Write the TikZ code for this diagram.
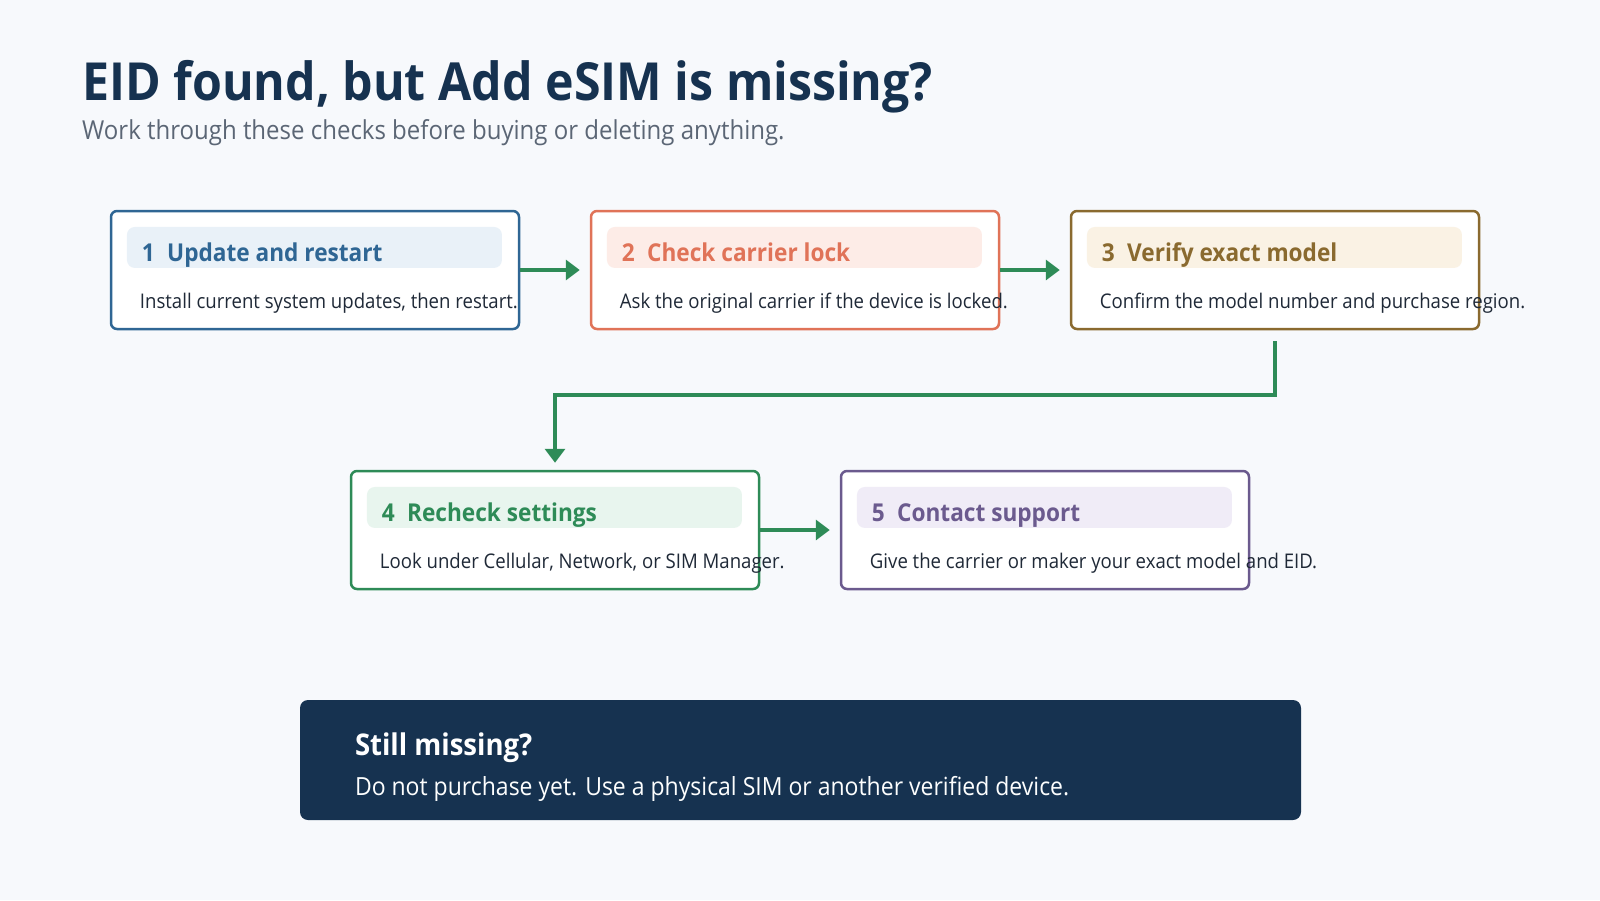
\documentclass[tikz,border=0pt]{standalone}
\usepackage{fontspec}
\setmainfont{Open Sans}[FakeStretch=0.92]
\usetikzlibrary{positioning,arrows.meta}
\definecolor{bg}{HTML}{F7F9FC}
\definecolor{navy}{HTML}{163250}
\definecolor{subgray}{HTML}{5B6675}
\definecolor{ink}{HTML}{1F2937}
\definecolor{flowgreen}{HTML}{2E8B57}
\definecolor{cblue}{HTML}{2F6694}   \definecolor{lblue}{HTML}{E9F1F8}
\definecolor{ccoral}{HTML}{E07358}  \definecolor{lcoral}{HTML}{FDECE7}
\definecolor{cbrown}{HTML}{8A6A2F}  \definecolor{lbrown}{HTML}{FAF2E4}
\definecolor{cgreen}{HTML}{2E8B57}  \definecolor{lgreen}{HTML}{E8F5EE}
\definecolor{cpurple}{HTML}{6B5A8E} \definecolor{lpurple}{HTML}{F0ECF7}
\newcommand{\fs}[1]{\fontsize{#1}{#1}\selectfont}

\begin{document}
\begin{tikzpicture}[x=1pt,y=-1pt,
    card/.style={draw=#1, line width=2.5pt, fill=white, rounded corners=6pt,
      minimum width=408pt, minimum height=118pt, inner sep=0pt},
    band/.style={fill=#1, rounded corners=8pt, minimum width=375pt,
      minimum height=41pt, inner sep=0pt, anchor=north west},
    cardtitle/.style={text=#1, font=\fs{24.6}\bfseries, anchor=base west, inner sep=0pt},
    cardtext/.style={text=ink, font=\fs{20.2}, anchor=base west, inner sep=0pt},
    flow/.style={draw=flowgreen, line width=4pt, -{Triangle[length=14pt,width=20pt]}}]
  \fill[bg] (0,0) rectangle (1600,900);
  \useasboundingbox (0,0) rectangle (1600,900);

  \node[anchor=base west, text=navy, font=\fs{52.5}\bfseries, inner sep=0pt] (title) at (82,100)
    {EID found, but Add eSIM is missing?};
  \node[anchor=base west, text=subgray, font=\fs{26.1}, inner sep=0pt] (subtitle) at (82,139)
    {Work through these checks before buying or deleting anything.};

  % the five checks, two rows
  \node[card=cblue] (card1) at (315,270) {};
  \node[card=ccoral, right=69.5pt of card1] (card2) {};
  \node[card=cbrown, right=69.5pt of card2] (card3) {};
  \node[card=cgreen] (card4) at (555,530) {};
  \node[card=cpurple, right=79.5pt of card4] (card5) {};

  \foreach \n/\c/\t/\s in {
      1/blue/{Update and restart}/{Install current system updates, then restart.},
      2/coral/{Check carrier lock}/{Ask the original carrier if the device is locked.},
      3/brown/{Verify exact model}/{Confirm the model number and purchase region.},
      4/green/{Recheck settings}/{Look under Cellular, Network, or SIM Manager.},
      5/purple/{Contact support}/{Give the carrier or maker your exact model and EID.}}{
    \node[band=l\c] (band\n) at ([xshift=17pt,yshift=-17pt]card\n.north west) {};
    \node[cardtitle=c\c] (head\n) at ([xshift=32pt,yshift=-52pt]card\n.north west) {\n\hspace{0.5em}\t};
    \node[cardtext] (text\n) at ([xshift=30pt,yshift=-99pt]card\n.north west) {\s};
  }

  \draw[flow, shorten >=10pt] (card1) -- (card2);
  \draw[flow, shorten >=10pt] (card2) -- (card3);
  \draw[flow, shorten <=11pt, shorten >=7pt] (card3.south) -- ++(0,65) -| (card4.north);
  \draw[flow, shorten >=10pt] (card4) -- (card5);

  \node[fill=navy, rounded corners=8pt, minimum width=1001pt, minimum height=120pt,
    inner sep=0pt] (banner) at (800.5,760) {};
  \node[anchor=base west, text=white, font=\fs{29.9}\bfseries, inner sep=0pt] (bannerhead)
    at ([xshift=55pt,yshift=-56pt]banner.north west) {Still missing?};
  \node[anchor=base west, text=white!92!lblue, font=\fs{25}, inner sep=0pt] (bannertext)
    at ([xshift=55pt,yshift=-96pt]banner.north west)
    {Do not purchase yet. Use a physical SIM or another verified device.};
\end{tikzpicture}
\end{document}
